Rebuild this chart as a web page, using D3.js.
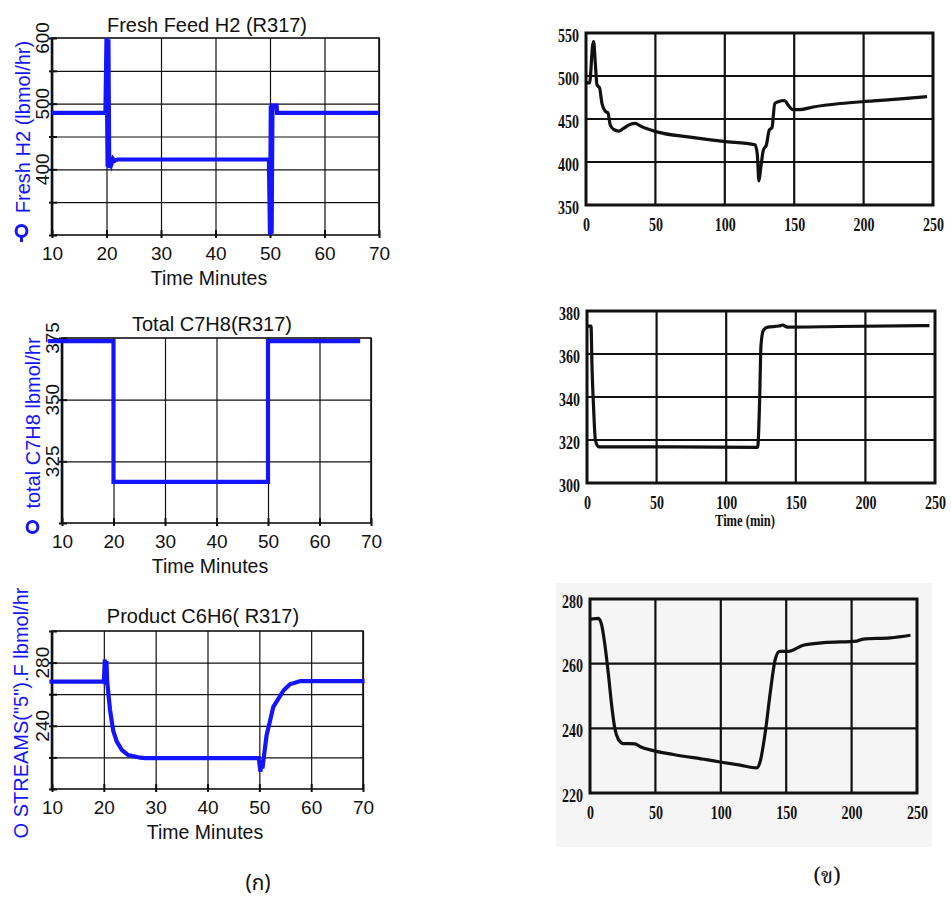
<!DOCTYPE html>
<html>
<head>
<meta charset="utf-8">
<script src="https://cdnjs.cloudflare.com/ajax/libs/d3/7.8.5/d3.min.js"></script>
<style>
  body { margin: 0; background: #fff; }
</style>
</head>
<body>
<div id="chart"></div>
<script>
// ---- data ----

// (ก) simulation, time in minutes
var simTicks = [10, 20, 30, 40, 50, 60, 70];

var h2Time = [10, 19.8, 20.0, 20.2, 20.35, 20.5, 20.7, 20.9, 21.2, 21.5, 22, 49.8, 50.0, 50.15, 50.3, 50.45, 51.2, 51.3, 70];
var h2Flow = [486, 486, 600, 404, 598, 402, 415, 408, 416, 413, 415, 415, 300, 497, 302, 497, 497, 486, 486];
var h2Grid = [350, 400, 450, 500, 550];
var h2Labels = [400, 500, 600];

var c7Time = [7.3, 20, 20, 50, 50, 67.9];
var c7Flow = [373.7, 373.7, 316.7, 316.7, 373.7, 373.7];
var c7Grid = [325, 350];
var c7Labels = [325, 350, 375];

var c6Time = [9.5, 20.0, 20.2, 20.35, 20.5, 20.65, 20.8, 21.2, 21.8, 22.5, 23.5, 24.7, 27, 28, 49.9, 50.2, 50.4, 50.6, 50.9, 51.4, 52.7, 54.7, 55.9, 57.9, 70.3];
var c6Flow = [268, 268, 282, 266, 281, 268, 263, 250, 237, 230, 224.6, 221.5, 219.8, 219.5, 219.5, 211, 216, 213, 221, 234, 252, 262.5, 266.3, 268.3, 268.3];
var c6Grid = [220, 240, 260, 280];
var c6Labels = [240, 280];

// (ข) plant reference, time in minutes
var refTicks = [0, 50, 100, 150, 200, 250];
var refGridX = [50, 100, 150, 200];

var refH2Time = [0, 2.6, 4.8, 5.5, 6.7, 7.9, 9.8, 11.5, 13.9, 15.8, 17.5, 19.9, 23.5, 27, 32, 35.5, 39, 51, 75, 99, 121.8, 123.4, 124.6, 125.8, 127.8, 130, 132, 134, 136, 138.5, 143, 145.7, 149, 154, 163.7, 183, 207, 231, 245.7];
var refH2Flow = [492, 492, 536, 540, 515, 490, 486, 468, 459, 457, 443, 438, 436, 439, 444, 445, 442, 435, 429, 424, 420, 409, 378, 392, 414, 420, 437, 440, 468, 470, 471.5, 466, 461, 461, 464, 468, 471, 474, 476];
var refH2Ticks = [350, 400, 450, 500, 550];

var refC7Time = [0.7, 2.9, 3.6, 4.8, 6, 8.3, 14, 62, 122.6, 124, 125, 126.7, 129.8, 138, 140.5, 144, 181, 246];
var refC7Flow = [373, 373, 354, 334, 320, 316.8, 316.8, 316.8, 316.6, 338, 364, 371, 372.5, 373, 373.5, 372.5, 372.8, 373.2];
var refC7Ticks = [300, 320, 340, 360, 380];

var refC6Time = [0.5, 6.4, 8.9, 11.5, 14, 16.6, 19.1, 21.7, 25.5, 34.4, 38, 48.5, 63.8, 89, 99.5, 114.8, 127.5, 130, 134, 137.8, 141.6, 145, 151.8, 163, 178.6, 204, 209, 229.6, 245];
var refC6Flow = [273.8, 274, 272, 265.5, 257, 247, 239.7, 236.6, 235.3, 235.2, 234.4, 233.1, 231.9, 230.3, 229.6, 228.6, 227.8, 229.6, 238.8, 251, 261.3, 263.8, 263.8, 265.7, 266.5, 267, 267.6, 268, 268.8];
var refC6Ticks = [220, 240, 260, 280];

var simBlue = "#1414ff";
var sans = "'Liberation Sans', Arial, sans-serif";
var serif = "'Liberation Serif', 'Times New Roman', serif";

var svg = d3.select("#chart").append("svg")
    .attr("width", 951)
    .attr("height", 899);

svg.append("rect").attr("width", 951).attr("height", 899).attr("fill", "#fff");

// light grey scan background behind the last reference plot
svg.append("rect")
    .attr("x", 556).attr("y", 583)
    .attr("width", 376).attr("height", 264)
    .attr("fill", "#f5f5f5");

// ---- left column: simulation plots ----
function drawSim(p) {
    var w = p.right - p.left;
    var h = p.bottom - p.top;
    var x = d3.scaleLinear().domain([10, 70]).range([p.left, p.right]);
    var y = d3.scaleLinear().domain(p.yDomain).range([p.bottom, p.top]);

    var g = svg.append("g").attr("font-family", sans);

    // x grid + labels
    var xAxis = g.append("g")
        .attr("transform", `translate(0, ${p.bottom})`)
        .call(d3.axisBottom(x).tickValues(simTicks).tickSizeInner(-h).tickSizeOuter(0).tickPadding(11.5));
    xAxis.select(".domain").remove();
    xAxis.selectAll("line").attr("stroke", "#111").attr("stroke-width", 1.2);
    xAxis.selectAll("text").attr("font-size", "19px").attr("fill", "#111").attr("font-family", sans);

    // y grid + rotated labels
    var yAxis = g.append("g")
        .attr("transform", `translate(${p.left}, 0)`)
        .call(d3.axisLeft(y).tickValues(p.grid).tickSizeInner(-w).tickSizeOuter(0).tickFormat(""));
    yAxis.select(".domain").remove();
    yAxis.selectAll("line").attr("stroke", "#111").attr("stroke-width", 1.2);

    g.selectAll(".ylab")
        .data(p.labels)
        .enter()
        .append("text")
        .attr("transform", d => `translate(${p.left - 3}, ${y(d)}) rotate(-90)`)
        .attr("text-anchor", "middle")
        .attr("font-size", "19px")
        .attr("fill", "#111")
        .text(d => d);

    // short tick marks on the axes
    var xMarks = g.append("g")
        .attr("transform", `translate(0, ${p.bottom + 3})`)
        .call(d3.axisBottom(x).tickValues(simTicks).tickSize(-8).tickFormat(""));
    xMarks.select(".domain").remove();
    xMarks.selectAll("line").attr("stroke", "#111").attr("stroke-width", 2);

    var yMarks = g.append("g")
        .attr("transform", `translate(${p.left - 3}, 0)`)
        .call(d3.axisLeft(y).tickValues(p.grid.concat(p.yDomain)).tickSize(-8).tickFormat(""));
    yMarks.select(".domain").remove();
    yMarks.selectAll("line").attr("stroke", "#111").attr("stroke-width", 2);

    // frame
    g.append("rect")
        .attr("x", p.left).attr("y", p.top)
        .attr("width", w).attr("height", h)
        .attr("fill", "none")
        .attr("stroke", "#111")
        .attr("stroke-width", 1.6);
    g.append("line")
        .attr("x1", p.left).attr("x2", p.left)
        .attr("y1", p.top).attr("y2", p.bottom)
        .attr("stroke", "#111").attr("stroke-width", 2.6);

    // series
    var pts = p.time.map((t, i) => [t, p.flow[i]]);
    g.append("path")
        .datum(pts)
        .attr("fill", "none")
        .attr("stroke", simBlue)
        .attr("stroke-width", 4.2)
        .attr("stroke-linejoin", "miter")
        .attr("d", d3.line().x(d => x(d[0])).y(d => y(d[1])));

    // title and axis names
    g.append("text")
        .attr("x", p.titleX).attr("y", p.titleY)
        .attr("text-anchor", "middle")
        .attr("font-size", "20px")
        .attr("fill", "#111")
        .text(p.title);

    g.append("text")
        .attr("x", p.xLabelX).attr("y", p.bottom + 50)
        .attr("text-anchor", "middle")
        .attr("font-size", "19.5px")
        .attr("fill", "#111")
        .text("Time Minutes");

    g.append("text")
        .attr("transform", `translate(${p.yLabelX}, ${p.yLabelY}) rotate(-90)`)
        .attr("text-anchor", "middle")
        .attr("font-size", "20px")
        .attr("fill", simBlue)
        .text(p.yLabel);

    if (p.marker) {
        if (p.stem) {
            g.append("line")
                .attr("x1", p.marker[0]).attr("x2", p.marker[0])
                .attr("y1", p.marker[1]).attr("y2", p.marker[1] + 11)
                .attr("stroke", simBlue).attr("stroke-width", 3);
        }
        g.append("circle")
            .attr("cx", p.marker[0]).attr("cy", p.marker[1])
            .attr("r", 5.4)
            .attr("fill", "#fff")
            .attr("stroke", simBlue)
            .attr("stroke-width", 3);
    }
}

drawSim({
    left: 52, right: 379, top: 38, bottom: 235,
    yDomain: [300, 600], grid: h2Grid, labels: h2Labels,
    time: h2Time, flow: h2Flow,
    title: "Fresh Feed H2 (R317)", titleX: 207, titleY: 32,
    xLabelX: 209,
    yLabel: "Fresh H2 (lbmol/hr)", yLabelX: 30, yLabelY: 127,
    marker: [21.5, 231], stem: true
});

drawSim({
    left: 62, right: 371, top: 338, bottom: 523,
    yDomain: [300, 375], grid: c7Grid, labels: c7Labels,
    time: c7Time, flow: c7Flow,
    title: "Total C7H8(R317)", titleX: 212, titleY: 331,
    xLabelX: 210,
    yLabel: "total C7H8 lbmol/hr", yLabelX: 40, yLabelY: 423,
    marker: [32.5, 527], stem: false
});

drawSim({
    left: 52, right: 363, top: 631, bottom: 789,
    yDomain: [200, 300], grid: c6Grid, labels: c6Labels,
    time: c6Time, flow: c6Flow,
    title: "Product C6H6( R317)", titleX: 203, titleY: 623,
    xLabelX: 205,
    yLabel: "O STREAMS(\"5\").F lbmol/hr", yLabelX: 28, yLabelY: 713,
    marker: null
});

// ---- right column: scanned plant data ----
function drawRef(p) {
    var w = p.right - p.left;
    var h = p.bottom - p.top;
    var x = d3.scaleLinear().domain([0, 250]).range([p.left, p.right]);
    var y = d3.scaleLinear().domain(p.yDomain).range([p.bottom, p.top]);

    var g = svg.append("g").attr("font-family", serif);

    // condensed scan-style numbers
    function styleNums(sel) {
        sel.attr("font-family", serif)
            .attr("font-size", "18px")
            .attr("font-weight", "bold")
            .attr("fill", "#111")
            .attr("textLength", function() { return this.textContent.length * 7; })
            .attr("lengthAdjust", "spacingAndGlyphs");
    }

    var xAxis = g.append("g")
        .attr("transform", `translate(0, ${p.bottom})`)
        .call(d3.axisBottom(x).tickValues(refTicks).tickSize(0).tickPadding(13));
    xAxis.select(".domain").remove();
    xAxis.selectAll("text").call(styleNums);

    var yAxis = g.append("g")
        .attr("transform", `translate(${p.left}, 0)`)
        .call(d3.axisLeft(y).tickValues(p.ticks).tickSize(0).tickPadding(7));
    yAxis.select(".domain").remove();
    yAxis.selectAll("text").attr("dy", "8px").call(styleNums);

    // grid lines
    g.selectAll(".hgrid")
        .data(p.ticks.slice(1, -1))
        .enter()
        .append("line")
        .attr("x1", p.left).attr("x2", p.right)
        .attr("y1", d => y(d)).attr("y2", d => y(d))
        .attr("stroke", "#111")
        .attr("stroke-width", 2.2);

    g.selectAll(".vgrid")
        .data(refGridX)
        .enter()
        .append("line")
        .attr("x1", d => x(d)).attr("x2", d => x(d))
        .attr("y1", p.top).attr("y2", p.bottom)
        .attr("stroke", "#111")
        .attr("stroke-width", 2.2);

    g.append("rect")
        .attr("x", p.left).attr("y", p.top)
        .attr("width", w).attr("height", h)
        .attr("fill", "none")
        .attr("stroke", "#111")
        .attr("stroke-width", 3);

    var pts = p.time.map((t, i) => [t, p.flow[i]]);
    g.append("path")
        .datum(pts)
        .attr("fill", "none")
        .attr("stroke", "#111")
        .attr("stroke-width", 3.2)
        .attr("stroke-linejoin", "round")
        .attr("d", d3.line().curve(d3.curveMonotoneX).x(d => x(d[0])).y(d => y(d[1])));

    if (p.xLabel) {
        g.append("text")
            .attr("x", p.xLabel[0]).attr("y", p.xLabel[1])
            .attr("text-anchor", "middle")
            .attr("font-size", "16px")
            .attr("font-weight", "bold")
            .attr("fill", "#111")
            .attr("textLength", 60)
            .attr("lengthAdjust", "spacingAndGlyphs")
            .text("Time (min)");
    }
}

drawRef({
    left: 586, right: 933, top: 33, bottom: 205,
    yDomain: [350, 550], ticks: refH2Ticks,
    time: refH2Time, flow: refH2Flow
});

drawRef({
    left: 587, right: 935, top: 311, bottom: 483,
    yDomain: [300, 380], ticks: refC7Ticks,
    time: refC7Time, flow: refC7Flow,
    xLabel: [745, 526]
});

drawRef({
    left: 590, right: 917, top: 599, bottom: 793,
    yDomain: [220, 280], ticks: refC6Ticks,
    time: refC6Time, flow: refC6Flow
});

// sub-figure captions
svg.append("text")
    .attr("x", 258).attr("y", 890)
    .attr("text-anchor", "middle")
    .attr("font-family", "'Noto Sans Thai', 'Noto Sans', sans-serif")
    .attr("font-size", "21px")
    .attr("fill", "#111")
    .text("(ก)");

svg.append("text")
    .attr("x", 827).attr("y", 883)
    .attr("text-anchor", "middle")
    .attr("font-family", "'Noto Serif Thai', serif")
    .attr("font-size", "22px")
    .attr("fill", "#111")
    .text("(ข)");
</script>
</body>
</html>
